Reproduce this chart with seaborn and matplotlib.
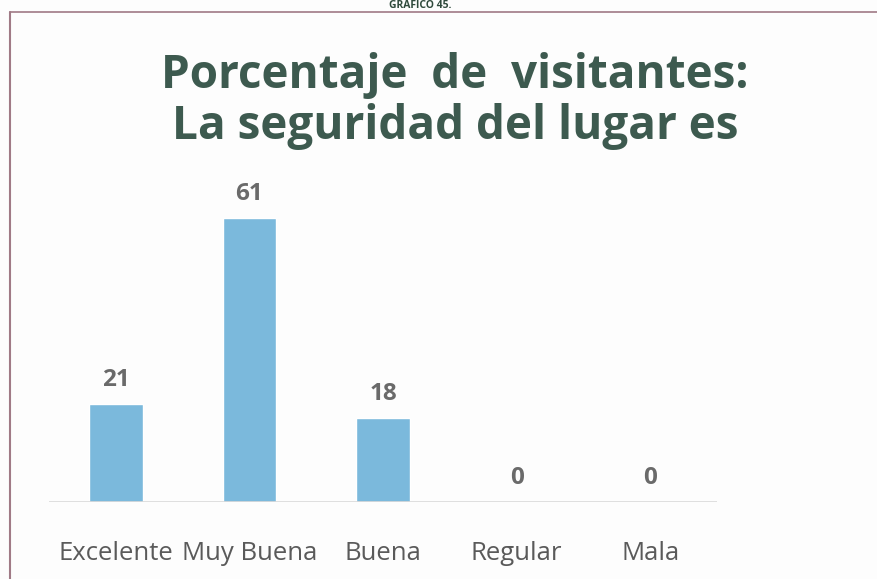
import matplotlib
matplotlib.use("Agg")
import matplotlib.pyplot as plt
from matplotlib.lines import Line2D
import seaborn as sns
import pandas as pd

# datos del gráfico
categorias = ["Excelente", "Muy Buena", "Buena", "Regular", "Mala"]
porcentajes = [21, 61, 18, 0, 0]
titulo = "Porcentaje  de  visitantes:\nLa seguridad del lugar es"
encabezado = "GRAFICO 45."

sns.set_theme(style="white")
plt.rcParams["font.family"] = ["Open Sans", "DejaVu Sans"]

df = pd.DataFrame({"Categoria": categorias, "Porcentaje": porcentajes})

W, H = 878, 579
fig = plt.figure(figsize=(W / 100, H / 100), dpi=100)
fig.patch.set_facecolor("#fdfdfd")

# área del gráfico (coordenadas en píxeles pasadas a fracciones)
izq, der = 49, 717
abajo, arriba = 502, 176
ax = fig.add_axes([izq / W, 1 - abajo / H, (der - izq) / W, (abajo - arriba) / H])
ax.set_facecolor("none")

sns.barplot(data=df, x="Categoria", y="Porcentaje", color="#7bb9dc",
            width=0.4, saturation=1, ax=ax)

ax.set_xlim(-0.5, 4.5)
ax.set_ylim(0, 70)
ax.set_xlabel("")
ax.set_ylabel("")
ax.set_yticks([])
sns.despine(ax=ax, left=True, top=True, right=True, bottom=True)
ax.axhline(0, color="#d9d9d9", linewidth=1.2)
ax.tick_params(axis="x", length=0, pad=28, labelsize=18.5, labelcolor="#5a5a5a")

# etiquetas de valor
for i, valor in enumerate(porcentajes):
    ax.text(i, valor + 2.6, str(valor), ha="center", va="bottom",
            fontsize=17.5, fontweight="bold", color="#6a6a6a")

# título
fig.text(455 / W, 1 - 101 / H, titulo, ha="center", va="center",
         fontsize=33, fontweight="bold", color="#3d5a4f", linespacing=1.1)

# encabezado (en el original aparece cortado arriba)
fig.text(420 / W, 1 - 11 / H, encabezado, ha="center", va="bottom",
         fontsize=7.5, fontweight="bold", color="#2f4a3c")

# marco escaneado
fig.add_artist(Line2D([10 / W, 1], [1 - 12 / H, 1 - 12 / H], color="#a07a86",
                      linewidth=1.2, transform=fig.transFigure))
fig.add_artist(Line2D([10 / W, 10 / W], [0, 1 - 12 / H], color="#a07a86",
                      linewidth=1.5, transform=fig.transFigure))

fig.savefig("out.png", dpi=100, facecolor=fig.get_facecolor())
